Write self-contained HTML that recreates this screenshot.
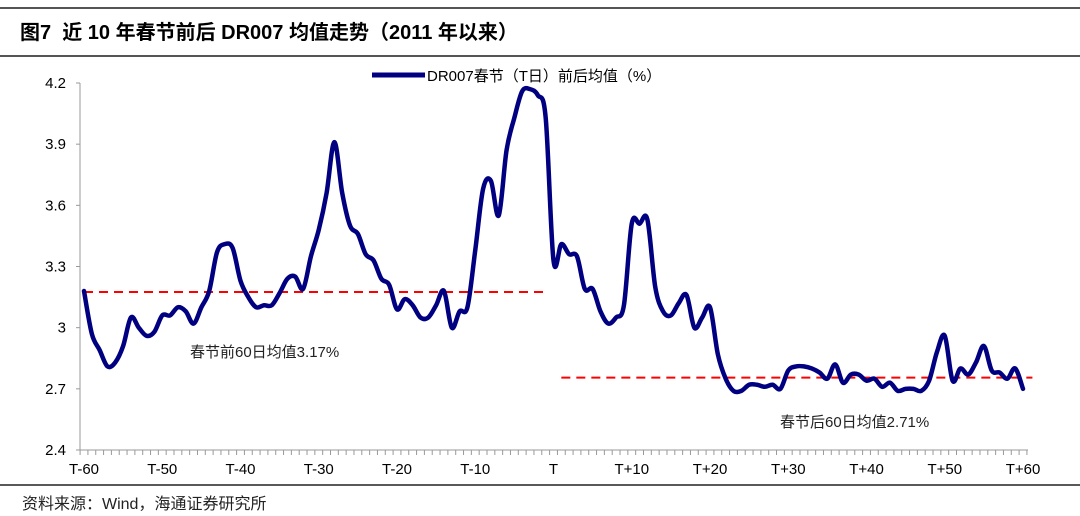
<!DOCTYPE html>
<html><head><meta charset="utf-8"><style>
body{margin:0;background:#fff;}
svg{display:block;font-family:"Liberation Sans","Noto Sans CJK SC",sans-serif;}
</style></head><body>
<svg id="c" width="1080" height="516" viewBox="0 0 1080 516">
<line x1="0" y1="8" x2="1080" y2="8" stroke="#555" stroke-width="2"/>
<text x="20" y="39" font-size="20" font-weight="bold" fill="#000">图7&#160;&#160;近 10 年春节前后 DR007 均值走势（2011 年以来）</text>
<line x1="0" y1="56" x2="1080" y2="56" stroke="#555" stroke-width="2"/>
<line x1="0" y1="485" x2="1080" y2="485" stroke="#222" stroke-width="1.5"/>
<text x="22" y="509" font-size="16" fill="#222">资料来源：Wind，海通证券研究所</text>
<g>
<line x1="372" y1="75" x2="425" y2="75" stroke="#000080" stroke-width="5"/>
<text x="427" y="81" font-size="15" fill="#000">DR007春节（T日）前后均值（%）</text>
</g>
<g id="axes"></g>
<g id="marks"></g>
<text x="190" y="357" font-size="15" fill="#222">春节前60日均值3.17%</text>
<text x="780" y="427" font-size="15" fill="#222">春节后60日均值2.71%</text>
</svg>
<script>
const yTicks=[2.4,2.7,3,3.3,3.6,3.9,4.2];
const yTickLabels=["2.4","2.7","3","3.3","3.6","3.9","4.2"];
const xTickDays=[-60,-50,-40,-30,-20,-10,0,10,20,30,40,50,60];
const xTickLabels=["T-60","T-50","T-40","T-30","T-20","T-10","T","T+10","T+20","T+30","T+40","T+50","T+60"];
const preAvgLine=[-60,-1,3.175];
const postAvgLine=[1,61.2,2.755];
const dr007=[3.18,2.97,2.89,2.81,2.83,2.91,3.05,3.0,2.96,2.98,3.06,3.06,3.10,3.08,3.02,3.10,3.18,3.37,3.41,3.39,
3.23,3.15,3.10,3.11,3.11,3.17,3.24,3.25,3.19,3.35,3.48,3.66,3.91,3.66,3.50,3.46,3.36,3.33,3.24,3.21,
3.09,3.14,3.11,3.05,3.05,3.11,3.18,3.00,3.08,3.10,3.38,3.68,3.72,3.55,3.87,4.03,4.16,4.17,4.14,4.03,
3.33,3.41,3.36,3.35,3.19,3.19,3.08,3.02,3.05,3.11,3.51,3.51,3.53,3.20,3.08,3.06,3.12,3.16,3.00,3.05,
3.10,2.87,2.75,2.69,2.69,2.72,2.72,2.71,2.72,2.70,2.79,2.81,2.81,2.80,2.78,2.75,2.82,2.73,2.77,2.77,
2.74,2.75,2.71,2.73,2.69,2.70,2.70,2.69,2.74,2.88,2.96,2.74,2.80,2.77,2.83,2.91,2.79,2.78,2.75,2.80,2.70];
const NS="http://www.w3.org/2000/svg";
const X0=84,X1=1023,YB=450,YT=83,VMIN=2.4,VMAX=4.2;
function xs(d){return X0+(d+60)/120*(X1-X0);}
function ys(v){return YB-(v-VMIN)/(VMAX-VMIN)*(YB-YT);}
function mk(tag,attrs,parent){const e=document.createElementNS(NS,tag);for(const k in attrs)e.setAttribute(k,attrs[k]);parent.appendChild(e);return e;}
const axes=document.getElementById('axes'),marks=document.getElementById('marks');
let e=mk('line',{x1:80,y1:YT,x2:80,y2:YB,stroke:'#999','stroke-width':1},axes);


e=mk('line',{x1:80,y1:YB,x2:1028,y2:YB,stroke:'#999','stroke-width':1},axes);


yTicks.forEach((v,i)=>{
 const t=mk('line',{x1:76,y1:ys(v),x2:80,y2:ys(v),stroke:'#999'},axes);
 
 
 const l=mk('text',{x:66,y:ys(v)+5,'font-size':15,'text-anchor':'end',fill:'#000'},axes);
 l.textContent=yTickLabels[i];
 
 
});
for(let d=-60;d<=61;d++){
 const t=mk('line',{x1:xs(d)-3.9,y1:YB,x2:xs(d)-3.9,y2:YB+5,stroke:'#999'},axes);
 
 
}
xTickDays.forEach((d,i)=>{
 const l=mk('text',{x:xs(d),y:474,'font-size':15,'text-anchor':'middle',fill:'#000'},axes);
 l.textContent=xTickLabels[i];
 
 
});
e=mk('line',{x1:xs(preAvgLine[0]),y1:ys(preAvgLine[2]),x2:xs(preAvgLine[1]),y2:ys(preAvgLine[2]),stroke:'#f00','stroke-width':2,'stroke-dasharray':'9,6'},marks);


e=mk('line',{x1:xs(postAvgLine[0]),y1:ys(postAvgLine[2]),x2:xs(postAvgLine[1]),y2:ys(postAvgLine[2]),stroke:'#f00','stroke-width':2,'stroke-dasharray':'9,6'},marks);


const pts=dr007.map((v,i)=>[xs(i-60),ys(v)]);
let dstr='M'+pts[0][0]+','+pts[0][1];
for(let i=1;i<pts.length;i++){
 const p0=pts[Math.max(0,i-2)],p1=pts[i-1],p2=pts[i],p3=pts[Math.min(pts.length-1,i+1)];
 const c1x=p1[0]+(p2[0]-p0[0])/6,c1y=p1[1]+(p2[1]-p0[1])/6,c2x=p2[0]-(p3[0]-p1[0])/6,c2y=p2[1]-(p3[1]-p1[1])/6;
 dstr+=' C'+c1x+','+c1y+' '+c2x+','+c2y+' '+p2[0]+','+p2[1];
}
e=mk('path',{d:dstr,fill:'none',stroke:'#000080','stroke-width':4.5,'stroke-linejoin':'round','stroke-linecap':'round'},marks);


</script>
</body></html>
